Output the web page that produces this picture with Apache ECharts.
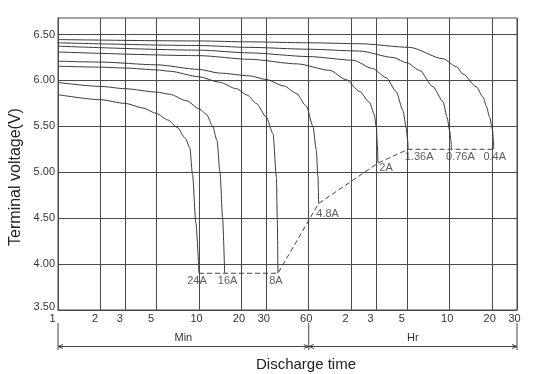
<!DOCTYPE html>
<html>
<head>
<meta charset="utf-8">
<script src="https://cdn.jsdelivr.net/npm/echarts@6/dist/echarts.min.js"></script>
<style>
html,body{margin:0;padding:0;background:#fff;}
#c{width:539px;height:374px;}
</style>
</head>
<body>
<div id="c"></div>
<script>
// ---- data ----
const timeTicks = [1, 2, 3, 5, 10, 20, 30, 60, 120, 180, 300, 600, 1200, 1800]; // minutes
const timeTickLabels = ['1', '2', '3', '5', '10', '20', '30', '60', '2', '3', '5', '10', '20', '30'];
const voltTicks = [3.5, 4.0, 4.5, 5.0, 5.5, 6.0, 6.5];

const curveNames = ['24A', '16A', '8A', '4.8A', '2A', '1.36A', '0.76A', '0.4A'];

const t24 = [1, 2, 3, 4, 5, 6, 7, 8, 8.6, 9.0, 9.5, 10];
const v24 = [5.845, 5.79, 5.75, 5.70, 5.64, 5.57, 5.49, 5.37, 5.27, 4.97, 4.45, 3.90];

const t16 = [1, 2, 3, 5, 6.2, 8.1, 10.1, 11.3, 12.5, 13.4, 14.1, 14.7, 15.2];
const v16 = [5.978, 5.935, 5.91, 5.873, 5.85, 5.78, 5.69, 5.63, 5.50, 5.35, 5.0, 4.5, 3.9];

const t8 = [1, 2, 3, 5, 6.2, 10, 14, 18.4, 22, 25.5, 30, 33.5, 35.4, 35.9, 36.3];
const v8 = [6.155, 6.145, 6.135, 6.115, 6.10, 6.04, 5.98, 5.91, 5.84, 5.75, 5.60, 5.42, 4.95, 4.5, 3.9];

const t48 = [1, 2, 5, 10, 14, 22.9, 30, 40, 49, 57.7, 64.3, 67.8, 69.8, 70.5];
const v48 = [6.21, 6.20, 6.17, 6.12, 6.08, 6.05, 6.01, 5.94, 5.86, 5.72, 5.50, 5.25, 4.95, 4.66];

const t2 = [1, 10, 22.9, 50, 84.5, 110, 138, 162, 175, 181, 184, 186];
const v2 = [6.31, 6.27, 6.23, 6.18, 6.11, 6.01, 5.88, 5.76, 5.63, 5.49, 5.30, 5.10];

const t136 = [1, 10, 22.9, 60, 124, 170, 213, 250, 280, 295, 302, 304];
const v136 = [6.373, 6.33, 6.30, 6.26, 6.22, 6.13, 6.03, 5.88, 5.67, 5.48, 5.35, 5.25];

const t076 = [1, 10, 22.9, 60, 138, 238, 300, 367, 457, 538, 574, 600, 612, 617];
const v076 = [6.41, 6.38, 6.36, 6.34, 6.32, 6.25, 6.19, 6.11, 5.93, 5.77, 5.60, 5.45, 5.35, 5.25];

const t04 = [1, 10, 22.9, 60, 138, 312, 538, 669, 745, 927, 1033, 1092, 1150, 1205, 1225, 1231];
const v04 = [6.445, 6.43, 6.42, 6.41, 6.40, 6.36, 6.236, 6.15, 6.07, 5.93, 5.82, 5.72, 5.60, 5.47, 5.35, 5.25];

// end-of-discharge (cut-off) line
const cutT = [10, 15.2, 36.3, 70.5, 186, 304, 617, 1231];
const cutV = [3.9, 3.9, 3.9, 4.66, 5.10, 5.25, 5.25, 5.25];

// ---- styling ----
const curveTimes = [t24, t16, t8, t48, t2, t136, t076, t04];
const curveVolts = [v24, v16, v8, v48, v2, v136, v076, v04];
const labelOffsets = [[-2, 0], [3, 0], [-2, 0], [9, 3], [8, -3], [11, 0], [9, 0], [1, 0]];
const FONT = 'Liberation Sans, Arial, sans-serif';
const LINE = '#3a3a3a';
const GRIDC = '#4a4a4a';

const chart = echarts.init(document.getElementById('c'), null, {renderer: 'canvas'});

function xLabel(val) {
  let best = 0, bd = Infinity;
  timeTicks.forEach((t, i) => {
    const d = Math.abs(Math.log(t) - Math.log(val));
    if (d < bd) { bd = d; best = i; }
  });
  const s = timeTickLabels[best];
  return s.length === 1 ? '{s|' + s + '}' : '{d|' + s + '}';
}

const series = curveNames.map((name, k) => ({
  name: name,
  type: 'line',
  data: curveTimes[k].map((t, i) => [t, curveVolts[k][i]]),
  showSymbol: false,
  smooth: 0.25,
  smoothMonotone: 'x',
  lineStyle: {color: LINE, width: 1},
  silent: true,
  z: 3
}));

series.push({
  name: 'cutoff',
  type: 'line',
  data: cutT.map((t, i) => [t, cutV[i]]),
  showSymbol: false,
  lineStyle: {color: '#444', width: 1, type: [5, 3]},
  silent: true,
  z: 3
});

series.push({
  name: 'labels',
  type: 'scatter',
  symbolSize: 0,
  silent: true,
  data: curveNames.map((name, k) => {
    const n = curveTimes[k].length;
    return {
      value: [curveTimes[k][n - 1], curveVolts[k][n - 1]],
      name: name,
      label: {offset: labelOffsets[k]}
    };
  }),
  label: {
    show: true,
    position: 'bottom',
    distance: 2,
    formatter: p => p.name,
    fontFamily: FONT,
    fontSize: 11,
    color: '#333'
  },
  z: 4
});

const option = {
  animation: false,
  backgroundColor: '#fff',
  grid: {left: 58, right: 22, top: 18, bottom: 64, show: true, borderColor: GRIDC, borderWidth: 1, containLabel: false},
  xAxis: {
    type: 'log',
    logBase: 10,
    min: 1,
    max: 1800,
    axisLine: {show: true, lineStyle: {color: GRIDC, width: 1}},
    axisTick: {show: false, customValues: timeTicks},
    splitLine: {show: true, lineStyle: {color: GRIDC, width: 1}},
    minorSplitLine: {show: false},
    axisLabel: {
      customValues: timeTicks,
      formatter: xLabel,
      margin: 3,
      fontFamily: FONT,
      fontSize: 11,
      color: '#333',
      rich: {
        s: {padding: [0, 11, 0, 0], fontFamily: FONT, fontSize: 11, color: '#333'},
        d: {padding: [0, 5, 0, 0], fontFamily: FONT, fontSize: 11, color: '#333'}
      }
    }
  },
  yAxis: {
    type: 'value',
    min: 3.5,
    max: 6.68,
    interval: 0.5,
    axisLine: {show: true, lineStyle: {color: GRIDC, width: 1}},
    axisTick: {show: false, customValues: voltTicks},
    splitLine: {show: true, lineStyle: {color: GRIDC, width: 1}},
    axisLabel: {
      customValues: voltTicks,
      formatter: v => (Math.abs(v - 3.5) < 1e-6 ? '{b|' + v.toFixed(2) + '}' : v.toFixed(2)),
      margin: 3,
      fontFamily: FONT,
      fontSize: 11,
      color: '#333',
      rich: {b: {padding: [0, 0, 7, 0], fontFamily: FONT, fontSize: 11, color: '#333'}}
    }
  },
  series: series
};

chart.setOption(option);

// ---- annotation below the axis (Min / Hr brackets), positioned from the axis scale ----
const px = v => chart.convertToPixel({xAxisIndex: 0}, v);
const py = v => chart.convertToPixel({yAxisIndex: 0}, v);
const yb = py(voltTicks[0]);
const xa = px(timeTicks[0]), xm = px(60), xe = px(timeTicks[timeTicks.length - 1]);
const ly = yb + 36.5;
const ls = {stroke: '#444', lineWidth: 1, fill: null};
const g = [];
[xa, xm, xe].forEach(x => g.push({type: 'line', shape: {x1: x, y1: yb + 13, x2: x, y2: yb + 40}, style: ls, silent: true}));
g.push({type: 'line', shape: {x1: xa, y1: ly, x2: xe, y2: ly}, style: ls, silent: true});
function arrow(x, dir) {
  return {type: 'polyline', shape: {points: [[x - dir * 5, ly - 2], [x, ly], [x - dir * 5, ly + 2]]}, style: ls, silent: true};
}
g.push(arrow(xa, -1), arrow(xm, 1), arrow(xm, -1), arrow(xe, 1));
g.push({type: 'text', x: (xa + xm) / 2, y: yb + 28, style: {text: 'Min', fontFamily: FONT, fontSize: 11, fill: '#333', align: 'center', verticalAlign: 'middle'}, silent: true});
g.push({type: 'text', x: (xm + xe) / 2, y: yb + 28, style: {text: 'Hr', fontFamily: FONT, fontSize: 11, fill: '#333', align: 'center', verticalAlign: 'middle'}, silent: true});
g.push({type: 'text', x: 306, y: 365, style: {text: 'Discharge time', fontFamily: FONT, fontSize: 15, fill: '#222', align: 'center', verticalAlign: 'middle'}, silent: true});
g.push({type: 'text', x: 16, y: 177, rotation: Math.PI / 2, style: {text: 'Terminal voltage(V)', fontFamily: FONT, fontSize: 16, fill: '#222', align: 'center', verticalAlign: 'middle'}, silent: true});
chart.setOption({graphic: {elements: g}});
</script>
</body>
</html>
